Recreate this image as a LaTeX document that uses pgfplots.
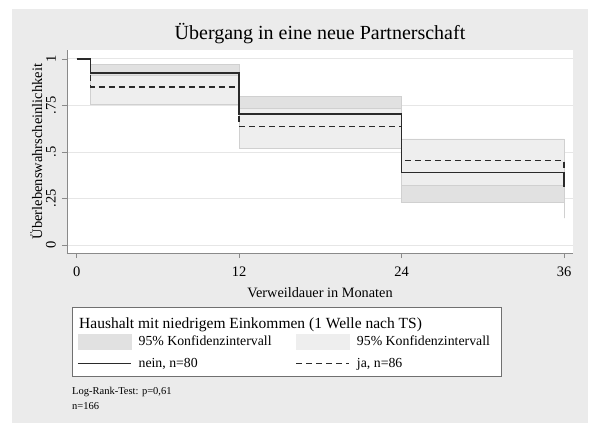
\documentclass[border=0pt]{standalone}
\usepackage{fontspec}
\setmainfont{Liberation Serif}
\usepackage{pgfplots}
\pgfplotsset{compat=1.18}
\definecolor{bg}{HTML}{EBEBEB}
\definecolor{bandA}{HTML}{E1E1E1}
\definecolor{bandB}{HTML}{EEEEEE}
\definecolor{bandEdge}{HTML}{D0D0D0}
\definecolor{gridc}{HTML}{E6E6E6}
\definecolor{axc}{HTML}{8A8A8A}
\definecolor{linec}{HTML}{2A2A2A}
\definecolor{boxc}{HTML}{707070}
\pgfplotsset{
  lineleg/.style={legend image code/.code={\draw[##1] (0pt,0pt) -- (53pt,0pt);}},
  bandAleg/.style={legend image code/.code={\fill[bandA] (0pt,-7.5pt) rectangle (53pt,7.5pt);}},
  bandBleg/.style={legend image code/.code={\fill[bandB] (0pt,-7.5pt) rectangle (53pt,7.5pt);}},
}
\begin{document}
\begin{tikzpicture}
\useasboundingbox (0pt,0pt) rectangle (590pt,-424pt);
\fill[bg] (12pt,-9pt) rectangle (588pt,-423pt);
\fill[white] (72pt,-307pt) rectangle (501pt,-376pt);
\draw[boxc, line width=0.9pt] (72pt,-307pt) rectangle (501pt,-376pt);
\node[anchor=base west, inner sep=0pt, font=\fontsize{15.5}{18}\selectfont] at (79pt,-328pt) {Haushalt mit niedrigem Einkommen (1 Welle nach TS)};
\node[anchor=base west, inner sep=0pt, font=\fontsize{10.5}{12}\selectfont] at (72pt,-394pt) {Log-Rank-Test: p=0,61};
\node[anchor=base west, inner sep=0pt, font=\fontsize{10.5}{12}\selectfont] at (72pt,-409pt) {n=166};
\begin{axis}[
  at={(67pt,-253pt)}, anchor=south west,
  scale only axis, width=506pt, height=203pt,
  xmin=-0.72, xmax=36.66, ymin=-0.043, ymax=1.048,
  axis x line=bottom, axis y line=left,
  axis line style={axc, line width=0.9pt, -},
  axis background/.style={fill=white},
  xtick={0,12,24,36}, xticklabels={0,12,24,36},
  ytick={0,0.25,0.5,0.75,1}, yticklabels={0,.25,.5,.75,1},
  tick align=outside, major tick length=5pt,
  tick style={axc, line width=0.8pt},
  ymajorgrids, grid style={gridc, line width=0.9pt},
  tick label style={font=\fontsize{14.5}{16}\selectfont},
  yticklabel style={rotate=90, anchor=south, inner xsep=0pt, inner ysep=6pt},
  xticklabel style={yshift=-5pt},
  title={Übergang in eine neue Partnerschaft},
  title style={font=\fontsize{20}{23}\selectfont, at={(axis description cs:0.5,1)}, anchor=base, yshift=5pt},
  xlabel={Verweildauer in Monaten},
  xlabel style={font=\fontsize{14.3}{16}\selectfont, at={(axis description cs:0.5,0)}, anchor=base, yshift=-44pt},
  ylabel={Überlebenswahrscheinlichkeit},
  ylabel style={font=\fontsize{14.5}{16}\selectfont, at={(axis description cs:-0.0494,0.5)}, anchor=base},
  legend columns=2, legend cell align=left,
  legend style={at={(axis description cs:0.0198,-0.396)}, anchor=north west, draw=none, fill=none, inner sep=0pt,
    font=\fontsize{13.8}{15}\selectfont, row sep=8pt,
    nodes={inner sep=1pt},
    /tikz/every odd column/.append style={column sep=6pt},
    /tikz/every even column/.append style={column sep=23pt}},
]
% 95% CI, nein
\addplot[fill=bandA, draw=bandEdge, line width=0.8pt, bandAleg]
  coordinates {(1,0.968) (12,0.968) (12,0.797) (24,0.797) (24,0.55) (36,0.55) (36,0.47)
               (36,0.145) (36,0.227) (24,0.227) (24,0.59) (12,0.59) (12,0.84) (1,0.84)} -- cycle;
\addlegendentry{95\% Konfidenzintervall}
% 95% CI, ja
\addplot[fill=bandB, draw=bandEdge, line width=0.8pt, bandBleg]
  coordinates {(1,0.91) (12,0.91) (12,0.735) (24,0.735) (24,0.57) (36,0.57) (36,0.52)
               (36,0.27) (36,0.323) (24,0.323) (24,0.52) (12,0.52) (12,0.753) (1,0.753)} -- cycle;
\addlegendentry{95\% Konfidenzintervall}
% nein
\addplot[linec, line width=1.4pt, lineleg]
  coordinates {(0,1) (1,1) (1,0.925) (12,0.925) (12,0.705) (24,0.705) (24,0.389) (36,0.389) (36,0.313)};
\addlegendentry{nein, n=80}
% ja
\addplot[linec, line width=1.4pt, dash pattern=on 6pt off 4pt, lineleg]
  coordinates {(0,1) (1,1) (1,0.849) (12,0.849) (12,0.638) (24,0.638) (24,0.453) (36,0.453) (36,0.40)};
\addlegendentry{ja, n=86}
\end{axis}
\end{tikzpicture}
\end{document}
